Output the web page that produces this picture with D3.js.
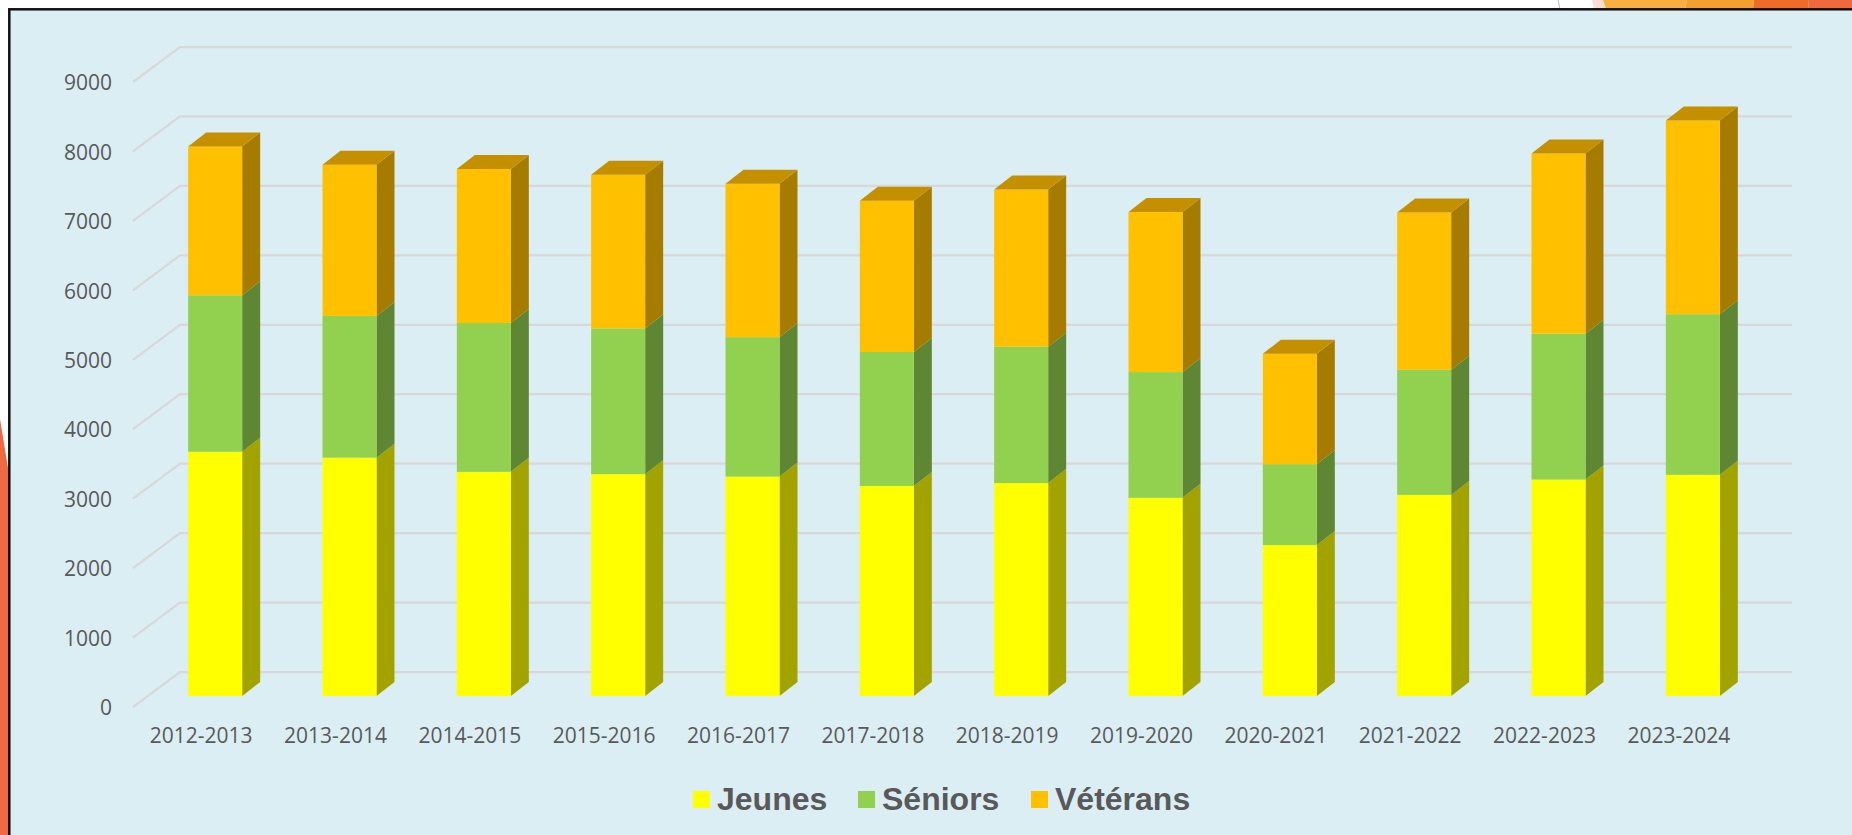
<!DOCTYPE html>
<html>
<head>
<meta charset="utf-8">
<script src="https://cdn.jsdelivr.net/npm/d3@7"></script>
<style>
  html, body { margin: 0; padding: 0; background: #fff; overflow: hidden; }
  .tick text { font-family: "Open Sans", sans-serif; font-size: 21px; fill: #595959; }
  .legend text { font-family: "Liberation Sans", Arial, sans-serif; font-size: 32px; font-weight: bold; fill: #595959; }
</style>
</head>
<body>
<div id="chart"></div>
<script>
var seasons = ["2012-2013", "2013-2014", "2014-2015", "2015-2016", "2016-2017", "2017-2018",
               "2018-2019", "2019-2020", "2020-2021", "2021-2022", "2022-2023", "2023-2024"];
var jeunes   = [3517, 3432, 3228, 3194, 3160, 3024, 3066, 2854, 2173, 2896, 3117, 3185];
var seniors  = [2253, 2041, 2143, 2100, 2007, 1930, 1965, 1811, 1165, 1803, 2101, 2313];
var veterans = [2143, 2177, 2219, 2211, 2211, 2177, 2262, 2304, 1591, 2262, 2593, 2789];
var seriesNames = ["Jeunes", "Séniors", "Vétérans"];
var yTicks = [0, 1000, 2000, 3000, 4000, 5000, 6000, 7000, 8000, 9000];

var width = 1852, height = 835;

// depth of the floor and of the bars, front plane is at the axis
var floorDx = 47, floorDy = -35;
var barDx = 18, barDy = -14;
var barOffX = 15, barOffY = -11;

var colors = {
  "Jeunes":   {front: "#ffff00", side: "#a3a300", top: "#c4c400"},
  "Séniors":  {front: "#92d050", side: "#5f8733", top: "#6f9e3d"},
  "Vétérans": {front: "#ffc000", side: "#a67c00", top: "#c49000"}
};

var svg = d3.select("#chart").append("svg")
    .attr("width", width)
    .attr("height", height)
    .style("display", "block");

// bits of the slide behind the chart
svg.append("polygon").attr("points", "0,419 10,480 10,835 0,835").attr("fill", "#ee6a45");
svg.append("polygon").attr("points", "1592,0 1603,0 1606,9 1594,9").attr("fill", "#fbdcd3");
svg.append("polygon").attr("points", "1603,0 1687,0 1685,9 1606,9").attr("fill", "#f5b041");
svg.append("polygon").attr("points", "1687,0 1754,0 1753,9 1685,9").attr("fill", "#f4a030");
svg.append("polygon").attr("points", "1754,0 1809,0 1808,9 1753,9").attr("fill", "#ee6c27");
svg.append("polygon").attr("points", "1809,0 1852,0 1852,9 1808,9").attr("fill", "#ee6a3e");
svg.append("line").attr("x1", 1558).attr("y1", 0).attr("x2", 1560).attr("y2", 9)
    .attr("stroke", "#bbb").attr("stroke-width", 1);

// chart panel
svg.append("rect")
    .attr("x", 9.3).attr("y", 9.3)
    .attr("width", 1860).attr("height", 840)
    .attr("fill", "#dbeef4")
    .attr("stroke", "#111")
    .attr("stroke-width", 2.5);

// set the ranges
var x = d3.scaleBand().domain(seasons).range([133, 1745]).paddingInner(0.598).paddingOuter(0.299);
var y = d3.scaleLinear().domain([0, 9000]).range([707, 82]);

// gridlines, with the short diagonal on the side wall
svg.append("g").selectAll("path")
    .data(yTicks)
    .join("path")
    .attr("fill", "none")
    .attr("stroke", "#d6d8d9")
    .attr("stroke-width", 2.25)
    .attr("d", function(d) {
      return "M133," + y(d) + "L" + (133 + floorDx) + "," + (y(d) + floorDy) +
             "L" + (1745 + floorDx) + "," + (y(d) + floorDy);
    });

// Add the Y Axis
svg.append("g")
    .attr("transform", "translate(133,1)")
    .call(d3.axisLeft(y).tickValues(yTicks).tickSize(0).tickPadding(21).tickFormat(d3.format("d")))
    .call(function(g) { g.select(".domain").remove(); });

// Add the X Axis
svg.append("g")
    .attr("transform", "translate(1,707)")
    .call(d3.axisBottom(x).tickSize(0).tickPadding(21))
    .call(function(g) { g.select(".domain").remove(); });

// stack the three series
var table = seasons.map(function(s, i) {
  return {season: s, "Jeunes": jeunes[i], "Séniors": seniors[i], "Vétérans": veterans[i]};
});
var stacked = d3.stack().keys(seriesNames)(table);

// draw the bars left to right, bottom to top
var layers = svg.append("g").selectAll("g")
    .data(stacked)
    .join("g");

layers.each(function(layer) {
  var c = colors[layer.key];
  var g = d3.select(this);
  var isTop = layer.key === seriesNames[seriesNames.length - 1];

  g.selectAll("polygon.side")
    .data(layer)
    .join("polygon")
    .attr("class", "side")
    .attr("fill", c.side)
    .attr("points", function(d) {
      var r = x(d.data.season) + barOffX + x.bandwidth();
      var y0 = y(d[0]) + barOffY, y1 = y(d[1]) + barOffY;
      return [[r, y0], [r + barDx, y0 + barDy], [r + barDx, y1 + barDy], [r, y1]].join(" ");
    });

  g.selectAll("rect")
    .data(layer)
    .join("rect")
    .attr("fill", c.front)
    .attr("x", function(d) { return x(d.data.season) + barOffX; })
    .attr("y", function(d) { return y(d[1]) + barOffY; })
    .attr("width", x.bandwidth())
    .attr("height", function(d) { return y(d[0]) - y(d[1]); });

  if (isTop) {
    g.selectAll("polygon.top")
      .data(layer)
      .join("polygon")
      .attr("class", "top")
      .attr("fill", c.top)
      .attr("points", function(d) {
        var l = x(d.data.season) + barOffX, r = l + x.bandwidth();
        var t = y(d[1]) + barOffY;
        return [[l, t], [l + barDx, t + barDy], [r + barDx, t + barDy], [r, t]].join(" ");
      });
  }
});

// legend
var legendX = [693, 858, 1031];
var legend = svg.append("g").attr("class", "legend").selectAll("g")
    .data(seriesNames)
    .join("g")
    .attr("transform", function(d, i) { return "translate(" + legendX[i] + ",791)"; });

legend.append("rect")
    .attr("width", 17)
    .attr("height", 17)
    .attr("fill", function(d) { return colors[d].front; });

legend.append("text")
    .attr("x", 24)
    .attr("y", 19)
    .text(function(d) { return d; });
</script>
</body>
</html>
